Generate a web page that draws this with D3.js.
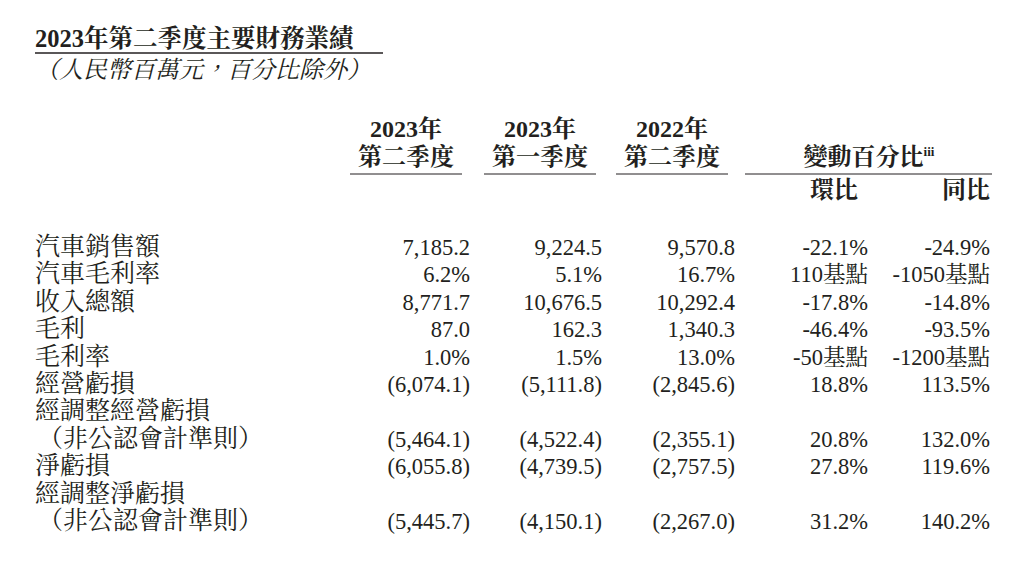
<!DOCTYPE html>
<html><head><meta charset="utf-8">
<script src="https://cdn.jsdelivr.net/npm/d3@7"></script>
<style>body{margin:0;background:#fff}text{fill:#231f20}</style>
</head><body>
<svg id="c" width="1024" height="567"></svg>
<script>
var labels = ["汽車銷售額","汽車毛利率","收入總額","毛利","毛利率","經營虧損","經調整經營虧損","（非公認會計準則）","淨虧損","經調整淨虧損","（非公認會計準則）"];
var q2_2023 = ["7,185.2","6.2%","8,771.7","87.0","1.0%","(6,074.1)","","(5,464.1)","(6,055.8)","","(5,445.7)"];
var q1_2023 = ["9,224.5","5.1%","10,676.5","162.3","1.5%","(5,111.8)","","(4,522.4)","(4,739.5)","","(4,150.1)"];
var q2_2022 = ["9,570.8","16.7%","10,292.4","1,340.3","13.0%","(2,845.6)","","(2,355.1)","(2,757.5)","","(2,267.0)"];
var qoq = ["-22.1%","110基點","-17.8%","-46.4%","-50基點","18.8%","","20.8%","27.8%","","31.2%"];
var yoy = ["-24.9%","-1050基點","-14.8%","-93.5%","-1200基點","113.5%","","132.0%","119.6%","","140.2%"];
var colHeads = [["2023年","第二季度"],["2023年","第一季度"],["2022年","第二季度"]];

var svg = d3.select("#c");
var font = "'Liberation Serif','Noto Serif CJK TC','Noto Sans CJK TC',serif";
var y = d3.scalePoint().domain(d3.range(labels.length)).range([247, 521]);
var colRight = [470, 602, 735, 868, 990];
var cols = [q2_2023, q1_2023, q2_2022, qoq, yoy];

svg.append("text").attr("x", 35).attr("y", 47).attr("font-family", font)
  .attr("font-size", 24.5).attr("font-weight", "bold").text("2023年第二季度主要財務業績");
svg.append("line").attr("x1", 35).attr("x2", 383).attr("y1", 53).attr("y2", 53)
  .attr("stroke", "#231f20").attr("stroke-width", 1.5);
svg.append("text").attr("x", 35).attr("y", 78).attr("font-family", font)
  .attr("font-size", 24).attr("font-style", "italic").text("（人民幣百萬元，百分比除外）");

// column heads
var centers = [406, 540, 672];
colHeads.forEach(function (h, i) {
  h.forEach(function (t, j) {
    svg.append("text").attr("x", centers[i]).attr("y", 137 + j * 28)
      .attr("text-anchor", "middle").attr("font-family", font).attr("font-size", 24)
      .attr("font-weight", "bold").text(t);
  });
  svg.append("line").attr("x1", centers[i] - 56).attr("x2", centers[i] + 56)
    .attr("y1", 174).attr("y2", 174).attr("stroke", "#231f20");
});
var ch = svg.append("text").attr("x", 869).attr("y", 165).attr("text-anchor", "middle")
  .attr("font-family", font).attr("font-size", 24).attr("font-weight", "bold");
ch.append("tspan").text("變動百分比");
ch.append("tspan").attr("font-size", 13).attr("dy", -9).text("iii");
svg.append("line").attr("x1", 745).attr("x2", 992).attr("y1", 174).attr("y2", 174).attr("stroke", "#231f20");
[["環比", 858], ["同比", 990]].forEach(function (d) {
  svg.append("text").attr("x", d[1]).attr("y", 198).attr("text-anchor", "end")
    .attr("font-family", font).attr("font-size", 24).attr("font-weight", "bold").text(d[0]);
});

// rows
svg.selectAll(".lab").data(labels).enter().append("text")
  .attr("x", function (d) { return d.charAt(0) === "（" ? 38 : 35; })
  .attr("y", function (d, i) { return y(i) + 8; })
  .attr("font-family", font).attr("font-size", 25).text(function (d) { return d; });
cols.forEach(function (col, c) {
  svg.selectAll(".v" + c).data(col).enter().append("text")
    .attr("x", colRight[c]).attr("y", function (d, i) { return y(i) + 8; })
    .attr("text-anchor", "end").attr("font-family", font).attr("font-size", 22.5)
    .text(function (d) { return d; });
});
</script>
</body></html>
